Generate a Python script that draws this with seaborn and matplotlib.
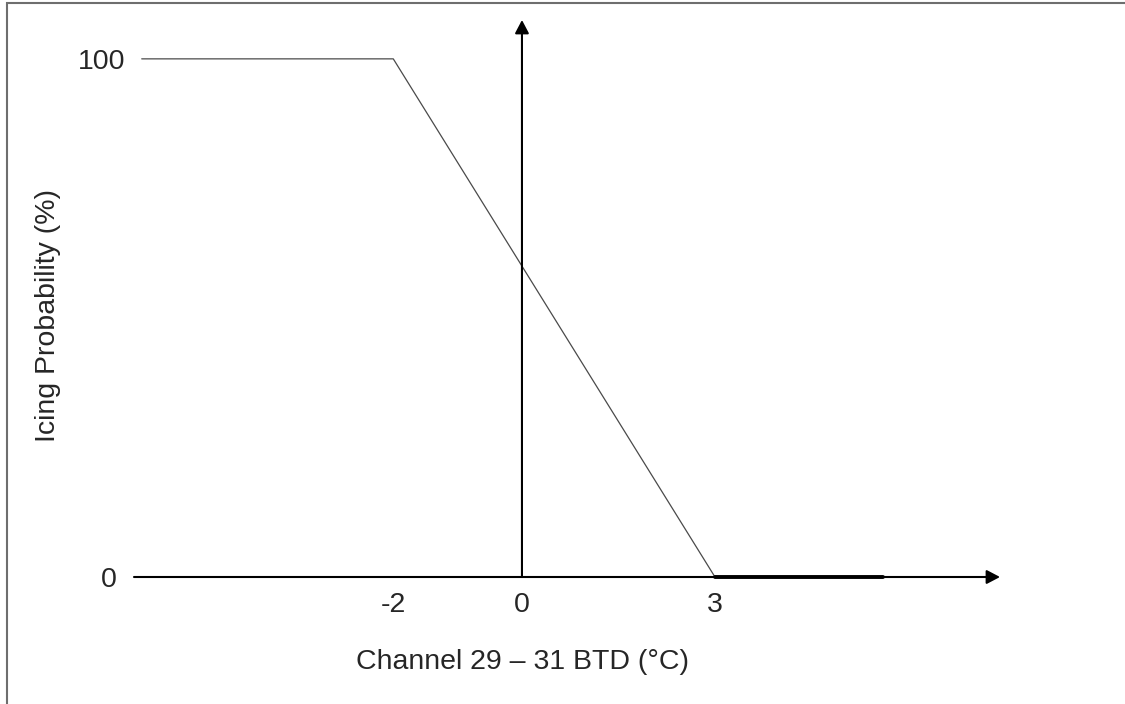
import numpy as np
import pandas as pd
import seaborn as sns
import matplotlib.pyplot as plt
from matplotlib import patches

# 结冰概率随 Channel 29-31 BTD 的分段线性关系
btd = [-5.91, -2, 3]
prob = [100, 100, 0]
# 0 概率的加粗段
zero_btd = [3, 5.61]
zero_prob = [0, 0]

x_ticks = [-2, 0, 3]
x_tick_labels = ['-2', '0', '3']
y_ticks = [0, 100]
y_tick_labels = ['0', '100']

x_range = [-6.03, 7.43]
y_range = [0, 107.5]

sns.set_style('white')
plt.rcParams['font.family'] = ['Liberation Sans', 'DejaVu Sans']
plt.rcParams['font.size'] = 20.5

W, H = 1125, 704
fig = plt.figure(figsize=(W / 100, H / 100), dpi=100)
ax = fig.add_axes([134 / W, 127 / H, 866 / W, 557 / H])

df = pd.DataFrame({'BTD': btd, 'Prob': prob})
sns.lineplot(data=df, x='BTD', y='Prob', ax=ax, sort=False, estimator=None,
             color='#4a4a4a', linewidth=0.9, clip_on=False, zorder=3)
df0 = pd.DataFrame({'BTD': zero_btd, 'Prob': zero_prob})
sns.lineplot(data=df0, x='BTD', y='Prob', ax=ax, sort=False, estimator=None,
             color='black', linewidth=2.8, clip_on=False, zorder=4)

ax.set_xlim(x_range)
ax.set_ylim(y_range)

# 带箭头的坐标轴
arrow = dict(arrowstyle='-|>,head_length=0.8,head_width=0.42', color='black',
             lw=1.5, shrinkA=0, shrinkB=0, mutation_scale=10)
ax.annotate('', xy=(x_range[1], 0), xytext=(x_range[0], 0), arrowprops=arrow,
            annotation_clip=False)
ax.annotate('', xy=(0, y_range[1]), xytext=(0, 0), arrowprops=arrow,
            annotation_clip=False)

for s in ax.spines.values():
    s.set_visible(False)
ax.set_xticks(x_ticks)
ax.set_xticklabels(x_tick_labels)
ax.tick_params(axis='x', length=0, pad=10.5)
ax.set_yticks([])
ax.set_xlabel('')
ax.set_ylabel('')

# y 轴刻度文字
ax.text(x_range[0] - 17 / 64.33, y_ticks[0], y_tick_labels[0], ha='right', va='center_baseline')
ax.text(x_range[0] - 9 / 64.33, y_ticks[1], y_tick_labels[1], ha='right', va='center_baseline')

fig.text(522 / W, 1 - 662 / H, 'Channel 29 – 31 BTD (°C)', ha='center', va='center')
fig.text(48 / W, 1 - 316 / H, 'Icing Probability (%)', ha='center', va='center', rotation=90)

# 外边框（只有左边和上边可见）
fig.patches.append(patches.Rectangle((6.5 / W, -0.1), 1.2, (H - 3) / H + 0.1,
                                     transform=fig.transFigure, fill=False,
                                     edgecolor='#6e6e6e', lw=1.5, clip_on=False))

fig.savefig('out.png', dpi=100)
